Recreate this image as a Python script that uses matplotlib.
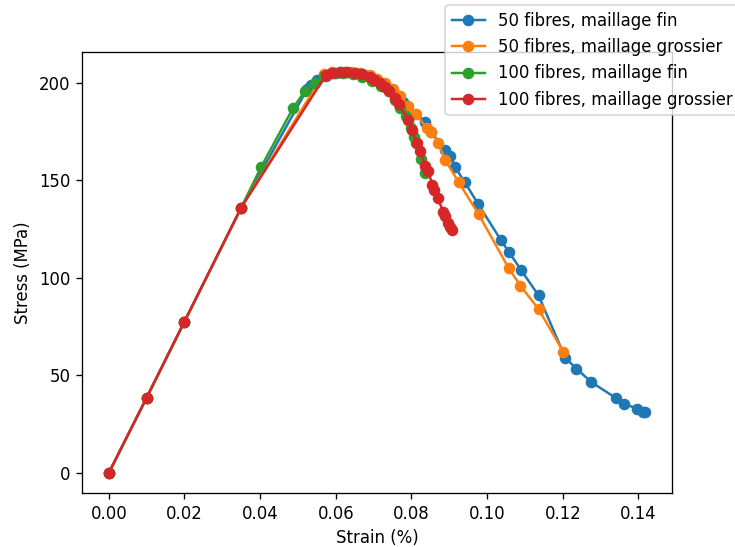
import matplotlib
matplotlib.use("Agg")
import matplotlib.pyplot as plt

x_50_fin = [0, 0.01, 0.02, 0.035, 0.0525, 0.0535, 0.055, 0.0575, 0.060, 0.0625, 0.065, 0.0675,
            0.070, 0.072, 0.0745, 0.0765, 0.0779, 0.0836, 0.0852, 0.0889, 0.0902, 0.0915, 0.0941,
            0.0976, 0.1036, 0.1057, 0.109, 0.1136, 0.1207, 0.1236, 0.1276, 0.134, 0.1362, 0.1396,
            0.1412, 0.1418]
y_50_fin = [0, 38.6, 77.6, 136, 197, 199, 201.5, 203.5, 205, 205.5, 205, 204, 202, 200, 197, 193,
            190, 180, 175, 165.5, 162.5, 157, 149, 138, 119.5, 113.5, 104, 91, 59, 53.5, 46.5, 38.5,
            35.5, 33, 31.5, 31]

x_50_gros = [0, 0.01, 0.02, 0.035, 0.0568, 0.059, 0.0615, 0.064, 0.0665, 0.069, 0.071, 0.073,
             0.075, 0.077, 0.0792, 0.0811, 0.084, 0.0852, 0.0871, 0.0889, 0.0925, 0.0978, 0.1057,
             0.1088, 0.1136, 0.1202]
y_50_gros = [0, 38.6, 77.6, 136, 204.5, 205.5, 205.5, 205.5, 205, 204, 202, 200, 197, 193, 188,
             184, 177, 175, 169, 160.5, 149, 132.5, 105, 96, 84, 62]

x_100_fin = [0, 0.01, 0.02, 0.035, 0.0403, 0.0487, 0.0519, 0.0545, 0.057, 0.0595, 0.062, 0.0645,
             0.067, 0.0695, 0.072, 0.074, 0.0757, 0.0771, 0.0786, 0.080, 0.0808, 0.0813, 0.0826,
             0.0836]
y_100_fin = [0, 38.6, 77.6, 136, 157, 187, 196, 200, 203.5, 205, 205, 204.5, 203, 201, 198.5, 196,
             191, 187, 183, 177, 172, 169, 161, 154]

x_100_gros = [0, 0.01, 0.02, 0.035, 0.0574, 0.059, 0.061, 0.063, 0.065, 0.067, 0.069, 0.0705,
              0.0718, 0.073, 0.0742, 0.0757, 0.0766, 0.0792, 0.0801, 0.0814, 0.0823, 0.0836, 0.0845,
              0.0855, 0.0861, 0.0869, 0.0884, 0.0889, 0.0897, 0.0902, 0.0906]
y_100_gros = [0, 38.6, 77.6, 136, 204, 205, 205.5, 205.5, 205, 204.5, 203, 201.5, 200, 198, 196,
              192, 189, 181, 176, 169, 165, 157.5, 155, 147.5, 145, 141, 134, 131.5, 128, 126, 124.5]

labels = ["50 fibres, maillage fin", "50 fibres, maillage grossier",
          "100 fibres, maillage fin", "100 fibres, maillage grossier"]

DPI = 119
fig = plt.figure(figsize=(735 / DPI, 547 / DPI), dpi=DPI)
ax = fig.add_axes([82/735, 1-493/547, (672-82)/735, (493-52)/547])
ax.plot(x_50_fin, y_50_fin, marker='o', label=labels[0])
ax.plot(x_50_gros, y_50_gros, marker='o', label=labels[1])
ax.plot(x_100_fin, y_100_fin, marker='o', label=labels[2])
ax.plot(x_100_gros, y_100_gros, marker='o', label=labels[3])
ax.set_xlabel("Strain (%)")
ax.set_ylabel("Stress (MPa)")
fig.legend(loc='upper left', bbox_to_anchor=(437/735, 1+3/547))
fig.savefig("out.png", dpi=DPI)
